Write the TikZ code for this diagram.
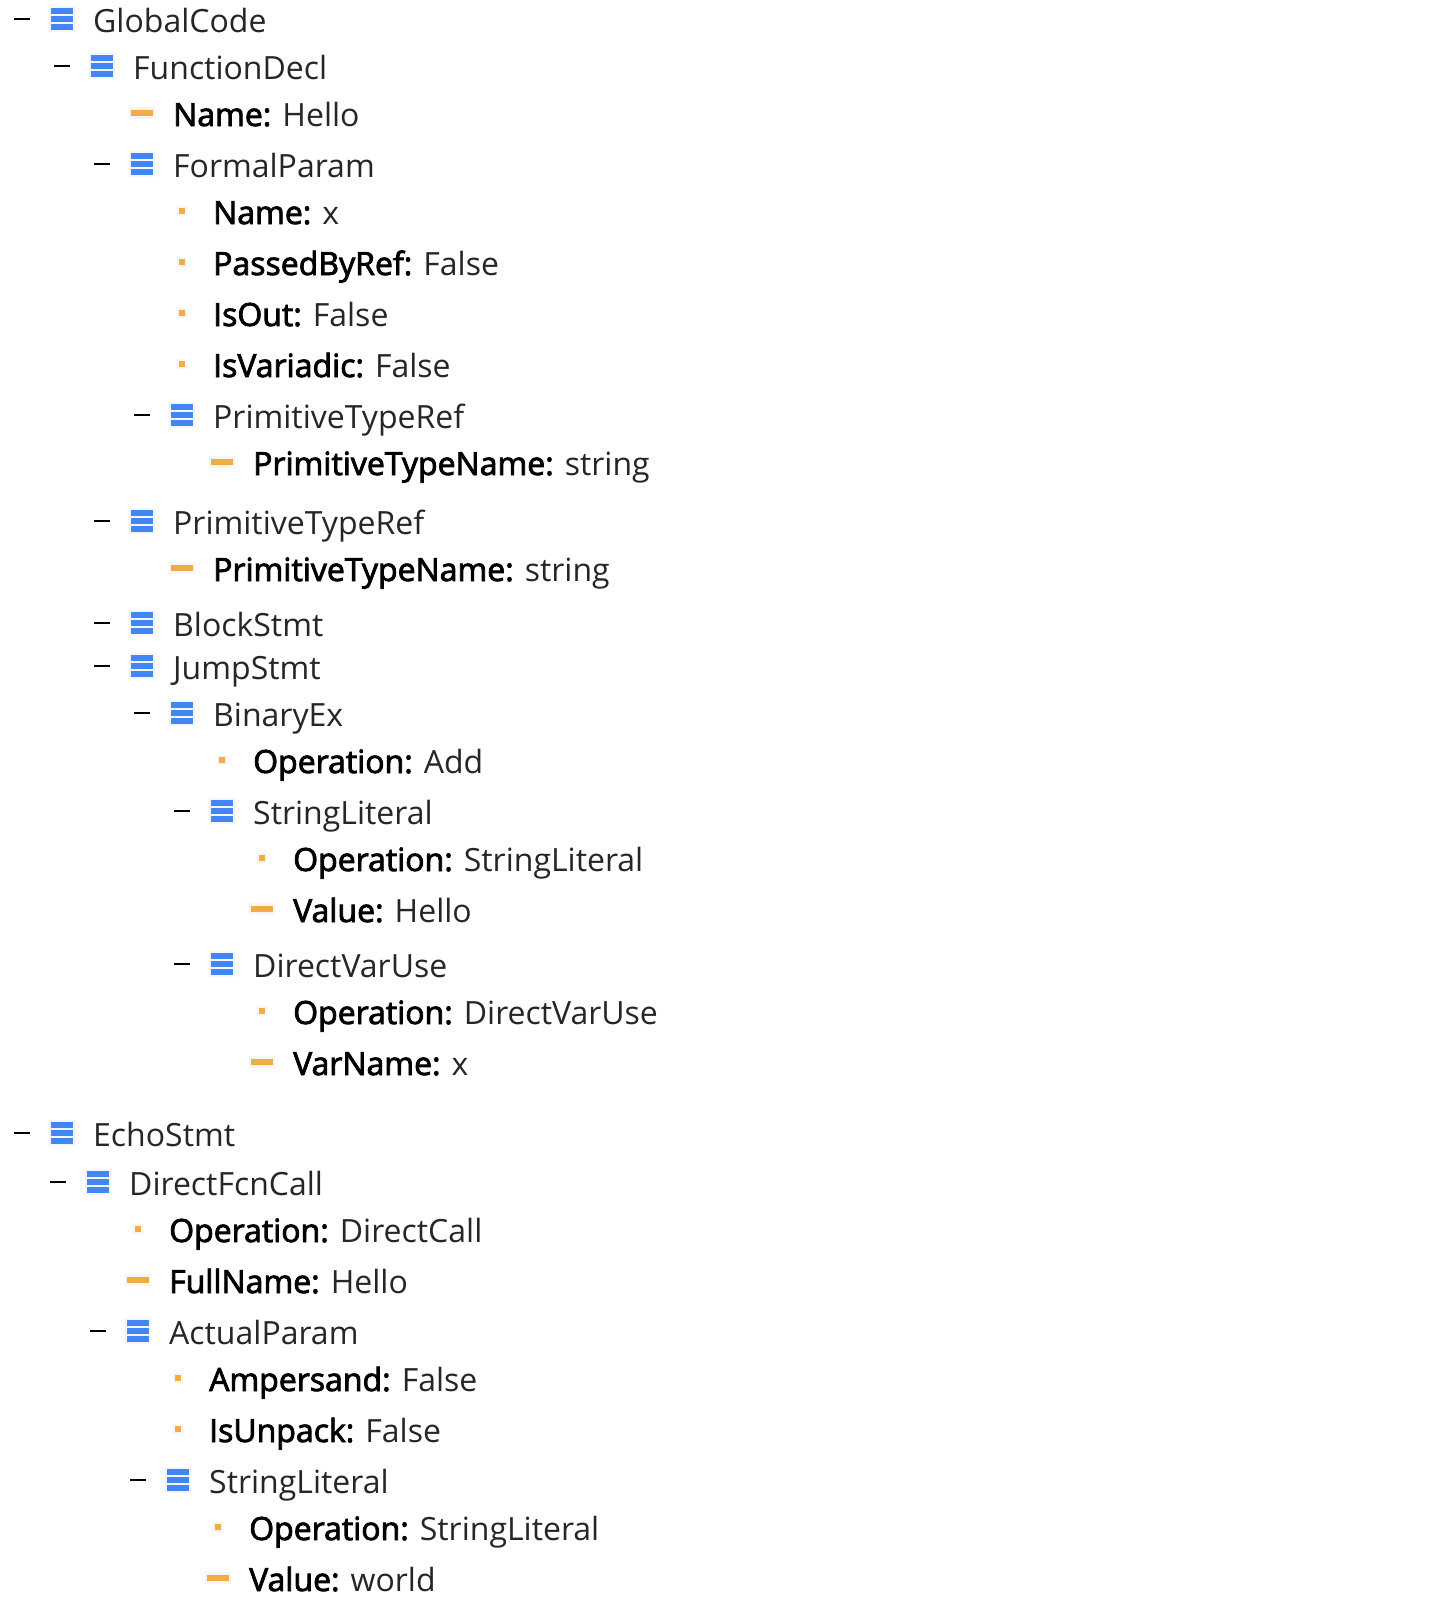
\documentclass[tikz,border=0pt]{standalone}
\usepackage{fontspec}
\setmainfont{Open Sans}
\newfontfamily\keyfont{Open Sans}[FakeBold=2.5]
\usepackage{tikz}
\definecolor{iblue}{RGB}{66,133,244}
\definecolor{iorange}{RGB}{240,173,67}
\definecolor{ihalo}{RGB}{245,245,245}

\begin{document}
\begin{tikzpicture}[x=1pt,y=-1pt,font=\fontsize{32}{38}\selectfont,
        lbl/.style={anchor=base west,inner sep=0pt,text=black!85},
        minus/.style={draw=black,line width=1.6pt},
        halo/.style={fill=ihalo},
        bluebar/.style={fill=iblue},
        orangebar/.style={fill=iorange}]
        \useasboundingbox (0,0) rectangle (1447,1622);
        % blue rows: expanded objects
        \foreach \n/\x/\y/\t in {a/62/19/GlobalCode,b/102/66/FunctionDecl,c/142/164/FormalParam,
            d/182/415/PrimitiveTypeRef,e/142/521/PrimitiveTypeRef,f/142/623/BlockStmt,
            g/142/666/JumpStmt,h/182/713/BinaryEx,i/222/811/StringLiteral,j/222/964/DirectVarUse,
            k/62/1133/EchoStmt,l/98/1182/DirectFcnCall,m/138/1331/ActualParam,n/178/1480/StringLiteral}
          {\path[halo] (\x-13,\y-13) rectangle (\x+13,\y+13);
           \path[bluebar] (\x-11,\y-11) rectangle (\x+11,\y-5);
           \path[bluebar] (\x-11,\y-3) rectangle (\x+11,\y+3);
           \path[bluebar] (\x-11,\y+5) rectangle (\x+11,\y+11);
           \coordinate (m\n a) at (\x-48,\y);
           \coordinate (m\n b) at (\x-32,\y);
           \draw[minus] (m\n a)--(m\n b);
           \node[lbl](r\n) at (\x+31,\y+13){\t};}
        % orange bars: values
        \foreach \n/\x/\y/\k/\v in {a/142/113/Name/Hello,b/222/462/PrimitiveTypeName/string,
            c/182/568/PrimitiveTypeName/string,d/262/909/Value/Hello,e/262/1062/VarName/x,
            f/138/1280/FullName/Hello,g/218/1578/Value/world}
          {\path[halo] (\x-13,\y-6) rectangle (\x+13,\y+6);
           \path[orangebar] (\x-11,\y-3) rectangle (\x+11,\y+3);
           \node[lbl](v\n) at (\x+31,\y+13){{\keyfont\color{black}\k:} \v};}
        % orange squares: flags
        \foreach \n/\x/\y/\k/\v in {a/182/211/Name/x,b/182/262/PassedByRef/False,c/182/313/IsOut/False,
            d/182/364/IsVariadic/False,e/222/760/Operation/Add,f/262/858/Operation/StringLiteral,
            g/262/1011/Operation/DirectVarUse,h/138/1229/Operation/DirectCall,i/178/1378/Ampersand/False,
            j/178/1429/IsUnpack/False,k/218/1527/Operation/StringLiteral}
          {\path[halo] (\x-5,\y-5) rectangle (\x+5,\y+5);
           \path[orangebar] (\x-3,\y-3) rectangle (\x+3,\y+3);
           \node[lbl](s\n) at (\x+31,\y+13){{\keyfont\color{black}\k:} \v};}
      \end{tikzpicture}
\end{document}
